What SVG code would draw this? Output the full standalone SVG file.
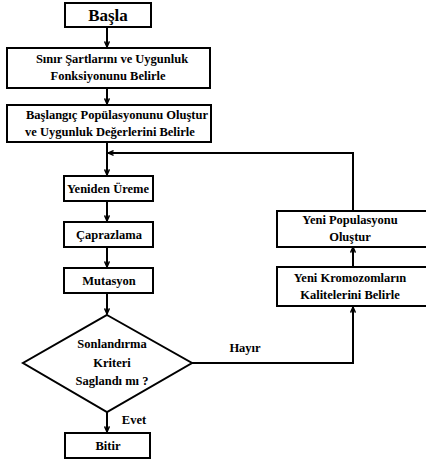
<svg xmlns="http://www.w3.org/2000/svg" width="426" height="465" viewBox="0 0 426 465">
<defs>
<style>
.box{fill:#fff;stroke:#000;stroke-width:2}
.ln{fill:none;stroke:#000;stroke-width:2}
text{font-family:"Liberation Serif","DejaVu Serif",serif;font-weight:bold;font-size:12.5px;fill:#000;text-anchor:middle}
.big{font-size:17px}
</style>
<marker id="ah" viewBox="0 0 10 10" refX="9" refY="5" markerWidth="7" markerHeight="7" orient="auto" markerUnits="userSpaceOnUse">
<path d="M1,1.5 L9,5 L1,8.5" fill="none" stroke="#000" stroke-width="2"/>
</marker>
</defs>
<rect width="426" height="465" fill="#fff"/>
<g id="connectors">
<line class="ln" x1="107" y1="27" x2="107" y2="47" marker-end="url(#ah)"/>
<line class="ln" x1="107" y1="88" x2="107" y2="104" marker-end="url(#ah)"/>
<line class="ln" x1="107" y1="142" x2="107" y2="175" marker-end="url(#ah)"/>
<polyline class="ln" points="353,211 353,153 108,153" marker-end="url(#ah)"/>
<line class="ln" x1="107" y1="201" x2="107" y2="221" marker-end="url(#ah)"/>
<line class="ln" x1="107" y1="247" x2="107" y2="267" marker-end="url(#ah)"/>
<line class="ln" x1="107" y1="293" x2="107" y2="314" marker-end="url(#ah)"/>
<line class="ln" x1="107" y1="412" x2="107" y2="432" marker-end="url(#ah)"/>
<polyline class="ln" points="192,363 353,363 353,307" marker-end="url(#ah)"/>
<line class="ln" x1="353" y1="266" x2="353" y2="247" marker-end="url(#ah)"/>
<text x="245" y="352">Hayır</text>
<text x="134" y="424">Evet</text>
</g>
<g id="basla">
<rect class="box" x="65" y="3" width="86" height="24"/>
<text class="big" x="108" y="21">Başla</text>
</g>
<g id="sinir">
<rect class="box" x="7" y="48" width="203" height="40"/>
<text x="112" y="63">Sınır Şartlarını ve Uygunluk</text>
<text x="108" y="80">Fonksiyonunu Belirle</text>
</g>
<g id="baslangic">
<rect class="box" x="7" y="105" width="204" height="37"/>
<text x="117" y="119">Başlangıç Popülasyonunu Oluştur</text>
<text x="110" y="136">ve Uygunluk Değerlerini Belirle</text>
</g>
<g id="yeniden">
<rect class="box" x="64" y="176" width="89" height="25"/>
<text x="108" y="193">Yeniden Üreme</text>
</g>
<g id="caprazlama">
<rect class="box" x="64" y="222" width="89" height="25"/>
<text x="109" y="239">Çaprazlama</text>
</g>
<g id="mutasyon">
<rect class="box" x="64" y="268" width="89" height="25"/>
<text x="109" y="285">Mutasyon</text>
</g>
<g id="karar">
<polygon class="box" points="107,315 192,363 107,412 23,363"/>
<text x="112" y="348">Sonlandırma</text>
<text x="112" y="367">Kriteri</text>
<text x="112" y="385">Saglandı mı ?</text>
</g>
<g id="bitir">
<rect class="box" x="65" y="433" width="85" height="25"/>
<text x="108" y="450">Bitir</text>
</g>
<g id="yenipop">
<rect class="box" x="277" y="211" width="152" height="36"/>
<text x="350" y="224">Yeni Populasyonu</text>
<text x="350" y="241">Oluştur</text>
</g>
<g id="yenikrom">
<rect class="box" x="277" y="267" width="152" height="39"/>
<text x="350" y="282">Yeni Kromozomların</text>
<text x="350" y="299">Kalitelerini  Belirle</text>
</g>
</svg>
